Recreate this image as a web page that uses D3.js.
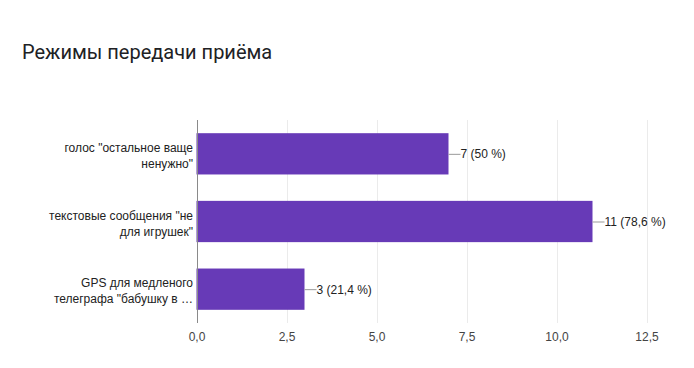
<!DOCTYPE html>
<html>
<head>
<meta charset="utf-8">
<script src="https://cdn.jsdelivr.net/npm/d3@7"></script>
<style>
  body { margin: 0; background: #fff; }
  svg { display: block; }
</style>
</head>
<body>
<svg id="chart" width="694" height="368"></svg>
<script>
// Chart data
var title = "Режимы передачи приёма";
var categories = [
  ["голос \"остальное ваще", "ненужно\""],
  ["текстовые сообщения \"не", "для игрушек\""],
  ["GPS для медленого", "телеграфа \"бабушку в …"]
];
var counts = [7, 11, 3];
var percents = ["50 %", "78,6 %", "21,4 %"];
var tickValues = [0, 2.5, 5, 7.5, 10, 12.5];

var svg = d3.select("#chart");
var fmt = function(v) { return d3.format(".1f")(v).replace(".", ","); };

// Scales
var x = d3.scaleLinear().domain([0, 12.5]).range([196.5, 646.5]);
var y = d3.scaleBand()
  .domain(d3.range(categories.length))
  .range([120, 323])
  .paddingInner(0.39)
  .paddingOuter(0.195);

// Title
svg.append("text")
  .attr("x", 22)
  .attr("y", 59)
  .attr("font-family", "Roboto, sans-serif")
  .attr("font-size", "20px")
  .attr("fill", "#202124")
  .text(title);

// Gridlines
svg.selectAll("line.grid")
  .data(tickValues.slice(1))
  .enter()
  .append("line")
  .attr("class", "grid")
  .attr("x1", function(d) { return Math.round(x(d)) + 0.5; })
  .attr("x2", function(d) { return Math.round(x(d)) + 0.5; })
  .attr("y1", 120)
  .attr("y2", 323)
  .attr("stroke", "#ebebeb")
  .attr("stroke-width", 1);

// Axis tick labels
var xAxis = d3.axisBottom(x).tickValues(tickValues).tickFormat(fmt).tickSize(0).tickPadding(0);
var gx = svg.append("g").attr("transform", "translate(0,331)").call(xAxis);
gx.select(".domain").remove();
gx.selectAll("text")
  .attr("font-family", "Arial, 'Liberation Sans', sans-serif")
  .attr("font-size", "12px")
  .attr("fill", "#444")
  .attr("dy", "0.85em");

// Bars
svg.selectAll("rect.bar")
  .data(counts)
  .enter()
  .append("rect")
  .attr("class", "bar")
  .attr("x", x(0))
  .attr("y", function(d, i) { return y(i); })
  .attr("width", function(d) { return x(d) - x(0); })
  .attr("height", y.bandwidth())
  .attr("fill", "#673ab7");

// Zero axis line
svg.append("line")
  .attr("x1", Math.round(x(0)) + 0.5)
  .attr("x2", Math.round(x(0)) + 0.5)
  .attr("y1", 120)
  .attr("y2", 323)
  .attr("stroke", "#8a8a8a")
  .attr("stroke-width", 1);

// Category labels (two lines, right aligned)
var labels = svg.selectAll("text.cat")
  .data(categories)
  .enter()
  .append("text")
  .attr("class", "cat")
  .attr("text-anchor", "end")
  .attr("font-family", "Arial, 'Liberation Sans', sans-serif")
  .attr("font-size", "12px")
  .attr("fill", "#222");
labels.selectAll("tspan")
  .data(function(d, i) { return d.map(function(s, j) { return { s: s, i: i, j: j }; }); })
  .enter()
  .append("tspan")
  .attr("x", 193)
  .attr("y", function(d) { return y(d.i) + y.bandwidth() / 2 - 2 + d.j * 16; })
  .text(function(d) { return d.s; });

// Value annotations with leader lines
svg.selectAll("line.lead")
  .data(counts)
  .enter()
  .append("line")
  .attr("class", "lead")
  .attr("x1", function(d) { return x(d); })
  .attr("x2", function(d) { return x(d) + 12; })
  .attr("y1", function(d, i) { return y(i) + y.bandwidth() / 2 + 0.5; })
  .attr("y2", function(d, i) { return y(i) + y.bandwidth() / 2 + 0.5; })
  .attr("stroke", "#999")
  .attr("stroke-width", 1);

svg.selectAll("text.val")
  .data(counts)
  .enter()
  .append("text")
  .attr("class", "val")
  .attr("x", function(d) { return x(d) + 12; })
  .attr("y", function(d, i) { return y(i) + y.bandwidth() / 2 + 4.5; })
  .attr("font-family", "Arial, 'Liberation Sans', sans-serif")
  .attr("font-size", "12px")
  .attr("fill", "#222")
  .text(function(d, i) { return d + " (" + percents[i] + ")"; });
</script>
</body>
</html>
